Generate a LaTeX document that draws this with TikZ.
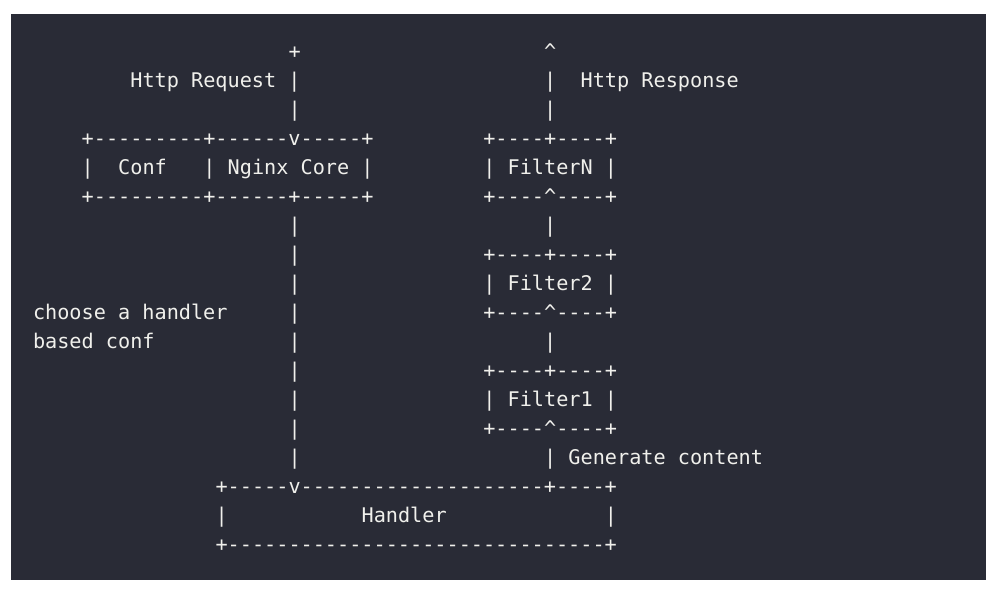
\documentclass[tikz,border=0pt]{standalone}
\usepackage{fontspec}
\newfontfamily\monofnt{DejaVu Sans Mono}
\definecolor{bgc}{RGB}{41,43,54}
\definecolor{fgc}{RGB}{240,240,236}
\tikzset{txt/.style={anchor=base west,inner sep=0pt,outer sep=0pt,text=fgc,font=\monofnt\fontsize{20.2}{24}\selectfont}}
\newcommand\tx[4]{\node[txt] (#1) at ({33+12.17*#2},{58+29*(#3-1)}) {#4};}
\newcommand\up{\textasciicircum}
\begin{document}
\begin{tikzpicture}[x=1pt,y=-1pt]
\useasboundingbox (0,0) rectangle (999,597);
\fill[white] (0,0) rectangle (999,597);
\fill[bgc] (11,14) rectangle (986,580);
% line 1-3
\tx{p1}{21}{1}{+}
\tx{a1}{42}{1}{\up}
\tx{req}{8}{2}{Http Request |}
\tx{r2}{42}{2}{|}
\tx{resp}{45}{2}{Http Response}
\tx{q3}{21}{3}{|}
\tx{r3}{42}{3}{|}
% conf / core box and FilterN
\tx{cb1}{4}{4}{+---------+------v-----+}
\tx{fn1}{37}{4}{+----+----+}
\tx{cb2a}{4}{5}{|}
\tx{conf}{7}{5}{Conf}
\tx{cb2b}{14}{5}{| Nginx Core |}
\tx{fn2}{37}{5}{| FilterN |}
\tx{cb3}{4}{6}{+---------+------+-----+}
\tx{fn3}{37}{6}{+----\up----+}
% vertical and Filter2
\tx{q7}{21}{7}{|}
\tx{r7}{42}{7}{|}
\tx{q8}{21}{8}{|}
\tx{f2a}{37}{8}{+----+----+}
\tx{q9}{21}{9}{|}
\tx{f2b}{37}{9}{| Filter2 |}
\tx{ch1}{0}{10}{choose a handler}
\tx{q10}{21}{10}{|}
\tx{f2c}{37}{10}{+----\up----+}
\tx{ch2}{0}{11}{based conf}
\tx{q11}{21}{11}{|}
\tx{r11}{42}{11}{|}
% Filter1
\tx{q12}{21}{12}{|}
\tx{f1a}{37}{12}{+----+----+}
\tx{q13}{21}{13}{|}
\tx{f1b}{37}{13}{| Filter1 |}
\tx{q14}{21}{14}{|}
\tx{f1c}{37}{14}{+----\up----+}
\tx{q15}{21}{15}{|}
\tx{gen}{42}{15}{| Generate content}
% Handler box
\tx{h1}{15}{16}{+-----v--------------------+----+}
\tx{h2a}{15}{17}{|}
\tx{hand}{27}{17}{Handler}
\tx{h2b}{47}{17}{|}
\tx{h3}{15}{18}{+-------------------------------+}
\end{tikzpicture}
\end{document}
